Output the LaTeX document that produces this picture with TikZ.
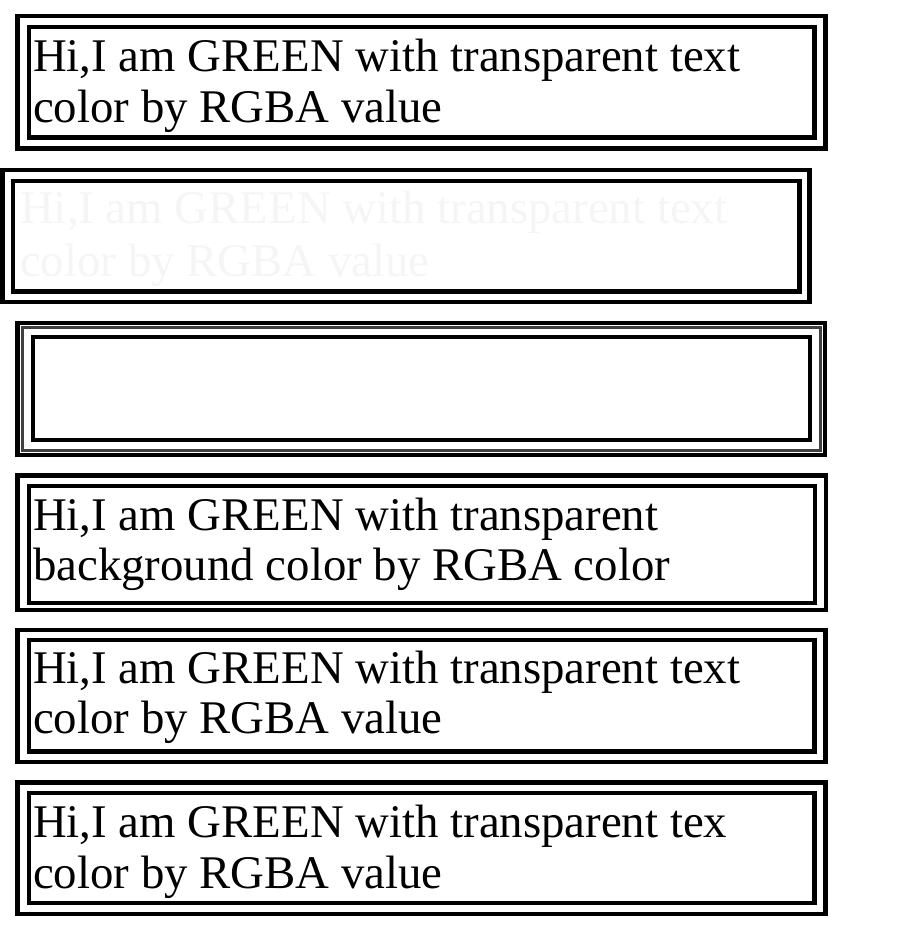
\documentclass[tikz,border=0pt]{standalone}
\usepackage{fontspec}
\setmainfont{Liberation Serif}
\begin{document}
\begin{tikzpicture}[x=1pt,y=-1pt,
		frame/.style={draw=black,line width=4.3pt},
		txt/.style={font=\fontsize{46.8}{51}\selectfont,anchor=base west,inner sep=0pt},
		faded/.style={txt,text=black!4}]
		\useasboundingbox (0,0) rectangle (922,930);

		% first box
		\draw[frame] (17.5,16) rectangle (825.5,148.5);
		\draw[frame] (29,27) rectangle (814.5,137.5);
		\node[txt] (boxAa) at (33,71) {Hi,I am GREEN with transparent text};
		\node[txt] (boxAb) at (33,122) {color by RGBA value};

		% second box, text nearly invisible
		\draw[frame] (2.5,170) rectangle (809.5,302);
		\draw[frame] (13,181) rectangle (799.5,291.5);
		\node[faded] (boxBa) at (20,223) {Hi,I am GREEN with transparent text};
		\node[faded] (boxBb) at (20,276) {color by RGBA value};

		% third box, empty
		\draw[frame] (17.5,323) rectangle (825,455);
		\draw[draw=black!75,line width=3pt] (22.5,327.5) rectangle (820.5,450);
		\draw[frame] (33,337) rectangle (810,440);

		% fourth box
		\draw[frame] (17.5,475.5) rectangle (826,610);
		\draw[frame] (29,486) rectangle (815,603);
		\node[txt] (boxDa) at (33,530) {Hi,I am GREEN with transparent};
		\node[txt] (boxDb) at (33,580) {background color by RGBA color};

		% fifth box
		\draw[frame] (17.5,630) rectangle (825.5,762);
		\draw[frame] (29,640) rectangle (814.5,751.5);
		\node[txt] (boxEa) at (33,683) {Hi,I am GREEN with transparent text};
		\node[txt] (boxEb) at (33,733) {color by RGBA value};

		% sixth box
		\draw[frame] (17.5,782.5) rectangle (825.5,914);
		\draw[frame] (29,793) rectangle (814.5,903);
		\node[txt] (boxFa) at (33,837) {Hi,I am GREEN with transparent tex};
		\node[txt] (boxFb) at (33,888) {color by RGBA value};
\end{tikzpicture}
\end{document}
